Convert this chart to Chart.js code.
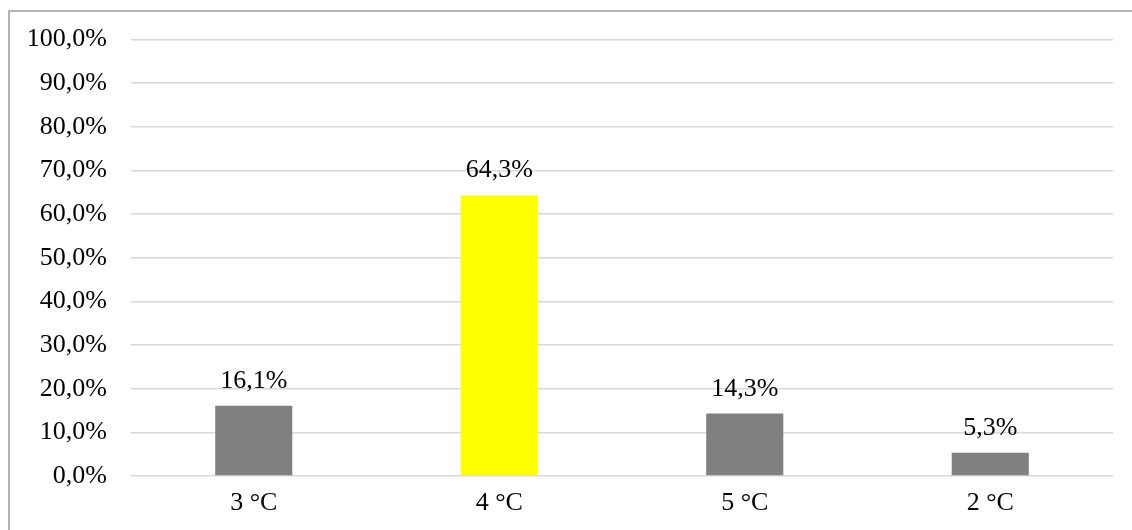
<!DOCTYPE html>
<html>
<head>
<meta charset="utf-8">
<script src="https://cdn.jsdelivr.net/npm/chart.js@4/dist/chart.umd.min.js"></script>
<style>
  html, body { margin: 0; padding: 0; background: #fff; overflow: hidden; }
  canvas { display: block; }
</style>
</head>
<body>
<canvas id="c" width="1132" height="530"></canvas>
<script>
const categories = ["3 °C", "4 °C", "5 °C", "2 °C"];
const values = [16.1, 64.3, 14.3, 5.3];
const barColors = ["#808080", "#FFFF00", "#808080", "#808080"];
const yTicks = [0, 10, 20, 30, 40, 50, 60, 70, 80, 90, 100];

const fmt = v => v.toFixed(1).replace('.', ',') + '%';
const FONT = "'Liberation Serif', 'Times New Roman', serif";

const framePlugin = {
  id: 'frame',
  beforeDraw(chart) {
    const ctx = chart.ctx;
    ctx.save();
    ctx.fillStyle = '#fff';
    ctx.fillRect(0, 0, chart.width, chart.height);
    ctx.strokeStyle = '#b4b4b4';
    ctx.lineWidth = 2;
    ctx.beginPath();
    ctx.moveTo(9, chart.height + 5);
    ctx.lineTo(9, 11);
    ctx.lineTo(chart.width + 5, 11);
    ctx.stroke();
    ctx.restore();
  }
};

const labelPlugin = {
  id: 'valueLabels',
  afterDatasetsDraw(chart) {
    const ctx = chart.ctx;
    const meta = chart.getDatasetMeta(0);
    ctx.save();
    ctx.font = "26px " + FONT;
    ctx.fillStyle = "#000";
    ctx.textAlign = "center";
    ctx.textBaseline = "alphabetic";
    meta.data.forEach((bar, i) => {
      ctx.fillText(fmt(values[i]), bar.x, bar.y - 18);
    });
    ctx.restore();
  }
};

new Chart(document.getElementById('c'), {
  type: 'bar',
  data: {
    labels: categories,
    datasets: [{
      data: values,
      backgroundColor: barColors,
      borderWidth: 0,
      categoryPercentage: 1,
      barPercentage: 0.314
    }]
  },
  options: {
    responsive: false,
    animation: false,
    devicePixelRatio: 1,
    layout: { padding: { left: 0, right: 19, top: 39, bottom: 0 } },
    plugins: { legend: { display: false }, tooltip: { enabled: false } },
    scales: {
      x: {
        grid: { display: false, drawTicks: false },
        border: { display: false },
        ticks: { color: '#000', font: { family: FONT, size: 26 }, padding: 12, maxRotation: 0 },
        afterFit(s) { s.height = 54; }
      },
      y: {
        min: 0, max: 100,
        afterBuildTicks(s) { s.ticks = yTicks.map(v => ({ value: v })); },
        grid: { color: '#d9d9d9', lineWidth: 1.5, drawTicks: false },
        border: { display: false },
        ticks: { color: '#000', font: { family: FONT, size: 26 }, padding: 24, callback: v => fmt(v) },
        afterFit(s) { s.width = 131; }
      }
    }
  },
  plugins: [framePlugin, labelPlugin]
});
</script>
</body>
</html>
